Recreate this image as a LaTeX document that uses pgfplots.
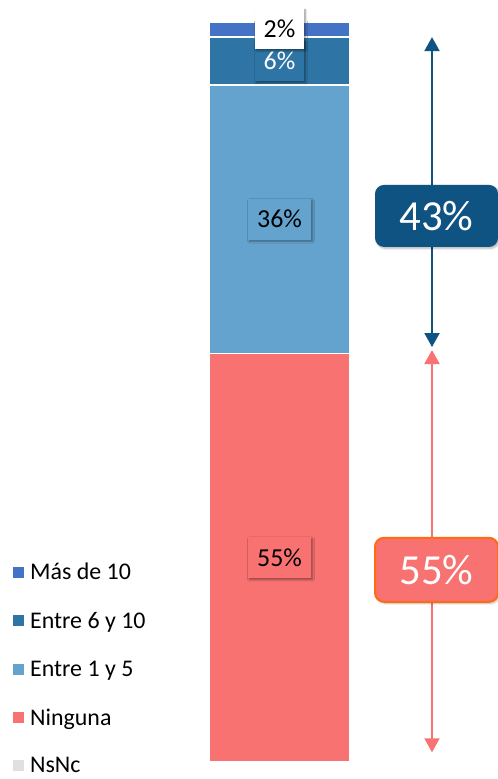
\documentclass[border=0pt]{standalone}
\usepackage{fontspec}
\setmainfont{Carlito}
\usepackage{pgfplots}
\pgfplotsset{compat=1.18}
\usetikzlibrary{shadows.blur,arrows.meta}
\definecolor{cMas}{HTML}{4472C4}
\definecolor{cEsix}{HTML}{2E74A4}
\definecolor{cEone}{HTML}{63A3CD}
\definecolor{cNin}{HTML}{F87272}
\definecolor{cNs}{HTML}{E0E0E0}
\definecolor{cDark}{HTML}{0F5383}
\definecolor{cOrange}{HTML}{FF6A13}
\newcommand{\lblfont}{\fontsize{26}{28}\selectfont}
\begin{document}
\begin{tikzpicture}
\begin{axis}[
  scale only axis, width=498bp, height=779bp,
  xmin=0, xmax=498, ymin=-2.282, ymax=102.282,
  hide axis, clip=false,
  ybar stacked, bar width=141bp,
  legend image code/.code={\fill[#1,draw=none] (0bp,-5.5bp) rectangle (11bp,5.5bp);},
  reverse legend,
  legend cell align=left,
  legend style={at={(axis cs:13,27.0)}, anchor=north west, draw=none, fill=none,
    inner sep=0pt, row sep=27bp, font=\fontsize{24}{27}\selectfont,
    nodes={inner ysep=2pt, inner xsep=6bp}},
]
\addplot[fill=cNs, draw=none] coordinates {(279.5,0)};
\addlegendentry{NsNc}
\addplot[fill=cNin, draw=white, line width=1.5bp] coordinates {(279.5,54.8)};
\addlegendentry{Ninguna}
\addplot[fill=cEone, draw=white, line width=1.5bp] coordinates {(279.5,36.1)};
\addlegendentry{Entre 1 y 5}
\addplot[fill=cEsix, draw=white, line width=1.5bp] coordinates {(279.5,6.4)};
\addlegendentry{Entre 6 y 10}
\addplot[fill=cMas, draw=white, line width=1.5bp] coordinates {(279.5,2.0)};
\addlegendentry{Más de 10}

\coordinate (L55) at (axis cs:279.5,27.4);
\coordinate (L36) at (axis cs:279.5,72.85);
\coordinate (L6) at (axis cs:279.5,94.1);
\coordinate (L2) at (axis cs:279.5,98.4);
\coordinate (A1) at (axis cs:432,97.3);
\coordinate (A2) at (axis cs:432,55.7);
\coordinate (A3) at (axis cs:432,55.3);
\coordinate (A4) at (axis cs:432,1.3);
\coordinate (B43) at (axis cs:436.5,73.3);
\coordinate (B55) at (axis cs:436.5,25.8);
\coordinate (BL) at (rel axis cs:0,0);
\coordinate (TR) at (rel axis cs:1,1);
\end{axis}
\node[blur shadow={shadow blur steps=6, shadow xshift=1.5bp, shadow yshift=-1.5bp, shadow opacity=40},
  minimum height=41bp, inner sep=0pt, fill=cNin, minimum width=63bp, text=black] at (L55) {\lblfont 55\%};
\node[blur shadow={shadow blur steps=6, shadow xshift=1.5bp, shadow yshift=-1.5bp, shadow opacity=40},
  minimum height=41bp, inner sep=0pt, fill=cEone, minimum width=63bp, text=black] at (L36) {\lblfont 36\%};
\node[blur shadow={shadow blur steps=6, shadow xshift=1.5bp, shadow yshift=-1.5bp, shadow opacity=40},
  minimum height=41bp, inner sep=0pt, fill=cEsix, minimum width=49bp, text=white] at (L6) {\lblfont 6\%};
\node[blur shadow={shadow blur steps=6, shadow xshift=1.5bp, shadow yshift=-1.5bp, shadow opacity=40},
  minimum height=41bp, inner sep=0pt, fill=white, minimum width=49bp, text=black] at (L2) {\lblfont 2\%};

\draw[cDark, line width=2bp, {Triangle[width=15bp,length=14bp]}-{Triangle[width=15bp,length=14bp]}]
  (A1) -- (A2);
\draw[cNin, line width=2bp, {Triangle[width=15bp,length=14bp]}-{Triangle[width=15bp,length=14bp]}]
  (A3) -- (A4);

\node[fill=cDark, rounded corners=9bp, minimum width=123bp, minimum height=62bp, text=white,
  blur shadow={shadow blur steps=6, shadow xshift=1.5bp, shadow yshift=-1.5bp, shadow opacity=30}]
  at (B43) {\fontsize{43}{46}\selectfont 43\%};
\node[fill=cNin, draw=cOrange, line width=2bp, rounded corners=9bp, minimum width=123bp, minimum height=64bp, text=white,
  blur shadow={shadow blur steps=6, shadow xshift=1.5bp, shadow yshift=-1.5bp, shadow opacity=30}]
  at (B55) {\fontsize{43}{46}\selectfont 55\%};
\pgfresetboundingbox
\path[use as bounding box] (BL) rectangle (TR);
\end{tikzpicture}
\end{document}
